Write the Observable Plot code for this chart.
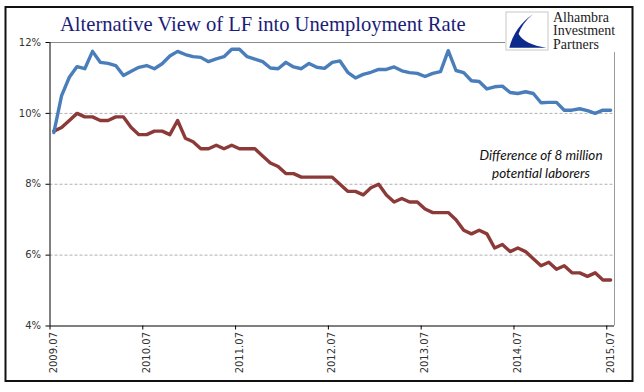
<!DOCTYPE html>
<html><head><meta charset="utf-8">
<script src="https://cdn.jsdelivr.net/npm/d3@7"></script>
<script src="https://cdn.jsdelivr.net/npm/@observablehq/plot@0.6"></script>
<style>
body{margin:0;background:#fff}
#chart{position:relative;width:644px;height:392px}
</style>
</head><body><div id="chart"></div>
<script>
// Monthly categories, 2009.07 … 2015.07 (73 months)
const months = d3.utcMonth.range(new Date(Date.UTC(2009, 6, 1)), new Date(Date.UTC(2015, 7, 1)));
const tickLabels = ["2009.07", "2010.07", "2011.07", "2012.07", "2013.07", "2014.07", "2015.07"];
const tickIndex = [0, 12, 24, 36, 48, 60, 72];
const yTicks = [4, 6, 8, 10, 12];
const gridValues = [6, 8, 10];

const alternativeRate = [
  9.46, 10.5, 11.02, 11.32, 11.26, 11.75, 11.44, 11.41, 11.35, 11.07, 11.19, 11.3,
  11.35, 11.26, 11.4, 11.62, 11.75, 11.66, 11.6, 11.58, 11.46, 11.54, 11.6, 11.81,
  11.81, 11.6, 11.53, 11.46, 11.28, 11.26, 11.44, 11.31, 11.26, 11.41, 11.3, 11.27,
  11.44, 11.48, 11.16, 11.0, 11.1, 11.16, 11.24, 11.24, 11.31, 11.2, 11.15, 11.13,
  11.04, 11.13, 11.18, 11.77, 11.21, 11.15, 10.92, 10.9, 10.69, 10.75, 10.77, 10.59,
  10.56, 10.61, 10.56, 10.3, 10.31, 10.31, 10.09, 10.09, 10.13, 10.08, 10.0, 10.09,
  10.09
];
const officialRate = [
  9.5, 9.6, 9.8, 10.0, 9.9, 9.9, 9.8, 9.8, 9.9, 9.9, 9.6, 9.4,
  9.4, 9.5, 9.5, 9.4, 9.8, 9.3, 9.2, 9.0, 9.0, 9.1, 9.0, 9.1,
  9.0, 9.0, 9.0, 8.8, 8.6, 8.5, 8.3, 8.3, 8.2, 8.2, 8.2, 8.2,
  8.2, 8.0, 7.8, 7.8, 7.7, 7.9, 8.0, 7.7, 7.5, 7.6, 7.5, 7.5,
  7.3, 7.2, 7.2, 7.2, 7.0, 6.7, 6.6, 6.7, 6.6, 6.2, 6.3, 6.1,
  6.2, 6.1, 5.9, 5.7, 5.8, 5.6, 5.7, 5.5, 5.5, 5.4, 5.5, 5.3,
  5.3
];
const annotation = "Difference of 8 million\npotential laborers";
const title = "Alternative View of LF into Unemployment Rate";
const logoLines = ["Alhambra", "Investment", "Partners"];

const altData = alternativeRate.map((v, i) => ({i, v, month: months[i]}));
const offData = officialRate.map((v, i) => ({i, v, month: months[i]}));

const plot = Plot.plot({
  width: 644, height: 392,
  marginLeft: 49.5, marginRight: 30, marginTop: 42, marginBottom: 66.5,
  style: {fontFamily: "'DejaVu Sans', sans-serif", fontSize: "10px", color: "#333"},
  x: {type: "linear", domain: [-0.5, 72.5]},
  y: {domain: [4, 12]},
  marks: [
    // outer chart border
    Plot.frame({stroke: "#111", strokeWidth: 2, insetLeft: -44.5, insetTop: -35.5, insetRight: -18, insetBottom: -55}),
    Plot.ruleY(gridValues, {x1: -0.5, x2: 72.5, stroke: "#b0b0b0", strokeDasharray: "3,2", strokeWidth: 1}),
    Plot.ruleY([12], {x1: -0.5, x2: 58.4, stroke: "#8a8a8a", strokeWidth: 1}),
    Plot.ruleX([72.5], {y1: 4, y2: 11.72, stroke: "#9a9a9a", strokeWidth: 1}),
    Plot.axisY({ticks: yTicks, tickSize: 4, tickPadding: 5, tickFormat: d => d + "%", label: null, stroke: "#000", fill: "#333"}),
    Plot.axisX({ticks: tickIndex.map(i => i - 0.5), tickSize: 4, tickFormat: () => "", label: null, stroke: "#000"}),
    Plot.axisX({ticks: tickIndex, tickSize: 0, tickPadding: 6, tickRotate: -90,
      tickFormat: d => tickLabels[tickIndex.indexOf(d)], label: null, fill: "#333"}),
    Plot.ruleX([-0.5], {y1: 4, y2: 12, stroke: "#000", strokeWidth: 1}),
    Plot.ruleY([4], {x1: -0.5, x2: 72.5, stroke: "#000", strokeWidth: 1}),
    Plot.line(offData, {x: "i", y: "v", stroke: "#8c3a38", strokeWidth: 3.4, strokeLinejoin: "round"}),
    Plot.line(altData, {x: "i", y: "v", stroke: "#4a7ebb", strokeWidth: 3.4, strokeLinejoin: "round"}),
    Plot.text([annotation], {x: 63, y: 8.59, text: d => d, fontStyle: "italic", fontFamily: "Lato",
      fontSize: 13.5, lineHeight: 1.33, fill: "#111", textAnchor: "middle"})
  ]
});
document.getElementById("chart").appendChild(plot);

// Decorations: title and logo
const svg = d3.select(plot);
svg.append("text").attr("x", 60).attr("y", 31).text(title)
  .attr("text-anchor", "start")
  .attr("font-family", "'Liberation Serif', serif").attr("font-size", 20.6).attr("fill", "#1c1c78");
const lg = svg.append("g").attr("transform", "translate(506,12)");
const w = 42, h = 38;
lg.append("rect").attr("width", w).attr("height", h).attr("fill", "#fff").attr("stroke", "#c8c8c8");
lg.append("path").attr("fill", "#0c2a8c").attr("d",
  `M${0.64*w},${0.06*h} Q${0.2*w},${0.4*h} ${0.08*w},${0.94*h} L${0.96*w},${0.94*h} Q${0.45*w},${0.86*h} ${0.3*w},${0.58*h} Q${0.38*w},${0.3*h} ${0.64*w},${0.06*h} Z`);
logoLines.forEach((t, k) => {
  svg.append("text").attr("x", 553).attr("y", 21.5 + k * 13.5).text(t)
    .attr("text-anchor", "start")
    .attr("font-family", "'Liberation Serif', serif").attr("font-size", 14).attr("fill", "#222");
});
</script>
</body></html>
